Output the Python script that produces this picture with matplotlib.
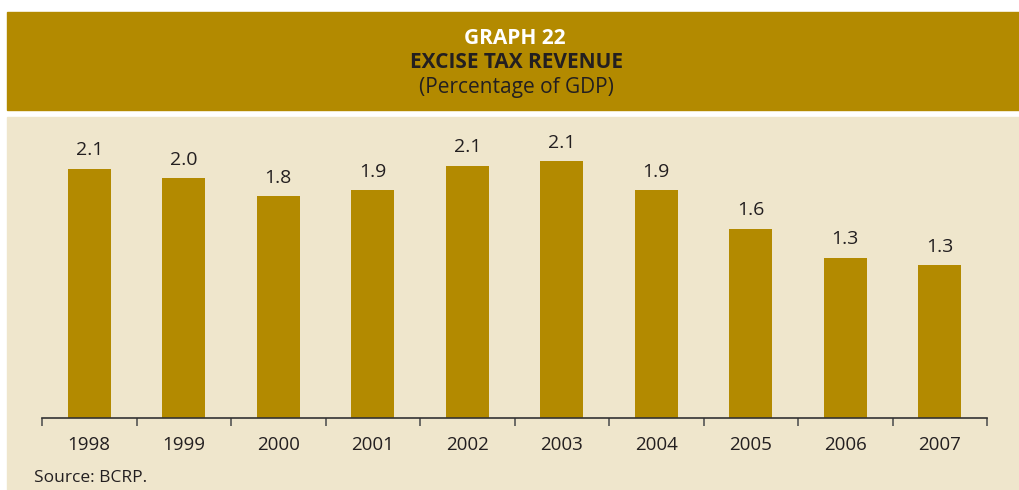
import matplotlib.pyplot as plt
from matplotlib.patches import Rectangle
import numpy as np

# excise tax revenue, % of GDP
years = ['1998', '1999', '2000', '2001', '2002', '2003', '2004', '2005', '2006', '2007']
revenue = [2.06, 1.98, 1.83, 1.88, 2.08, 2.12, 1.88, 1.56, 1.32, 1.26]

gold = '#B38A00'
cream = '#EFE6CC'
ink = '#231F20'

plt.rcParams['font.family'] = ['Open Sans', 'DejaVu Sans']

fig = plt.figure(figsize=(10.19, 4.9), dpi=100)
W, H = 1019, 490

# header band and chart panel (pixel units converted to figure fraction)
fig.patches.append(Rectangle((7 / W, 1 - 110 / H), 1 - 7 / W, 98 / H,
                             transform=fig.transFigure, color=gold, zorder=-5))
fig.patches.append(Rectangle((7 / W, 0), 1 - 7 / W, 1 - 117 / H,
                             transform=fig.transFigure, color=cream, zorder=-5))

title_font = ['Liberation Sans Narrow', 'Open Sans', 'DejaVu Sans']
fig.text(515 / W, 1 - 39 / H, 'GRAPH 22', ha='center', va='center', color='white',
         fontsize=15, fontweight='bold', family=title_font)
fig.text(516 / W, 1 - 62 / H, 'EXCISE TAX REVENUE', ha='center', va='center', color=ink,
         fontsize=15, fontweight='bold', family=title_font)
fig.text(516 / W, 1 - 88 / H, '(Percentage of GDP)', ha='center', va='center', color=ink,
         fontsize=15, family=title_font)

ax = fig.add_axes([42 / W, 1 - 418 / H, 945 / W, 293 / H])
ax.set_facecolor('none')
ax.set_zorder(2)

x = np.arange(len(years))
bars = ax.bar(x, revenue, width=0.455, color=gold, zorder=2)
for b, v in zip(bars, revenue):
    ax.annotate(f'{v:.1f}', (b.get_x() + b.get_width() / 2, v), xytext=(0, 7),
                textcoords='offset points', ha='center', va='bottom',
                fontsize=14, color=ink)

ax.set_xlim(-0.5, len(years) - 0.5)
ax.set_ylim(0, 2.42)

for s in ['top', 'right', 'left']:
    ax.spines[s].set_visible(False)
ax.spines['bottom'].set_color('#333333')
ax.spines['bottom'].set_linewidth(1.2)
ax.set_yticks([])

# year labels under bars, tick marks between categories
ax.set_xticks(x)
ax.set_xticklabels(years, fontsize=13.5, color=ink)
ax.tick_params(axis='x', which='major', length=0, pad=13)
ax.set_xticks(np.arange(len(years) + 1) - 0.5, minor=True)
ax.tick_params(axis='x', which='minor', length=6, width=1.2, color='#555555', direction='out')

fig.text(34 / W, 1 - 478 / H, 'Source: BCRP.', ha='left', va='center', color=ink, fontsize=12.5)

fig.savefig('out.png', dpi=100)
